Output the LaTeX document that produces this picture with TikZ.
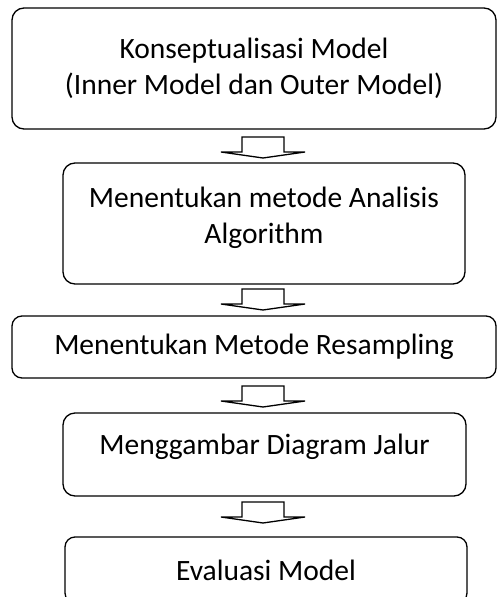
\documentclass[tikz,border=0pt]{standalone}
\usepackage{fontspec}
\setmainfont{Carlito}
\usepackage{tikz}

\tikzset{
    box/.style={draw, line width=1.3pt, rounded corners=12pt, inner sep=0pt,
        align=center, font=\fontsize{29.5}{36}\selectfont},
    blockarrow/.style={line width=1.3pt}
}

\begin{document}
\begin{tikzpicture}[x=1pt, y=1pt]
                \useasboundingbox (0,0) rectangle (497,-597);
                \clip (0,0) rectangle (497,-597);
                % Draw the boxes
                \node[box, minimum width=484, minimum height=121] (konsep) at (254,-68.5)
                    {Konseptualisasi Model\\(Inner Model dan Outer Model)};
                \node[box, minimum width=402, minimum height=121, text depth=17pt] (analisis) at (264,-223.5)
                    {Menentukan metode Analisis\\Algorithm};
                \node[box, minimum width=484, minimum height=62, rounded corners=10pt] (resampling) at (254,-347)
                    {Menentukan Metode Resampling};
                \node[box, minimum width=403, minimum height=83, text depth=20pt] (jalur) at (264.5,-454.5)
                    {Menggambar Diagram Jalur};
                \node[box, minimum width=402, minimum height=66, rounded corners=10pt] (evaluasi) at (266,-570)
                    {Evaluasi Model};
                % Draw the block arrows between the boxes
                \foreach \top in {137,289,386,502}{
                    \draw[blockarrow] (242,-\top) -- ++(0,-15) -- ++(-21,0) -- ++(42,-6)
                        -- ++(42,6) -- ++(-21,0) -- ++(0,15) -- cycle;
                }
            \end{tikzpicture}
\end{document}
